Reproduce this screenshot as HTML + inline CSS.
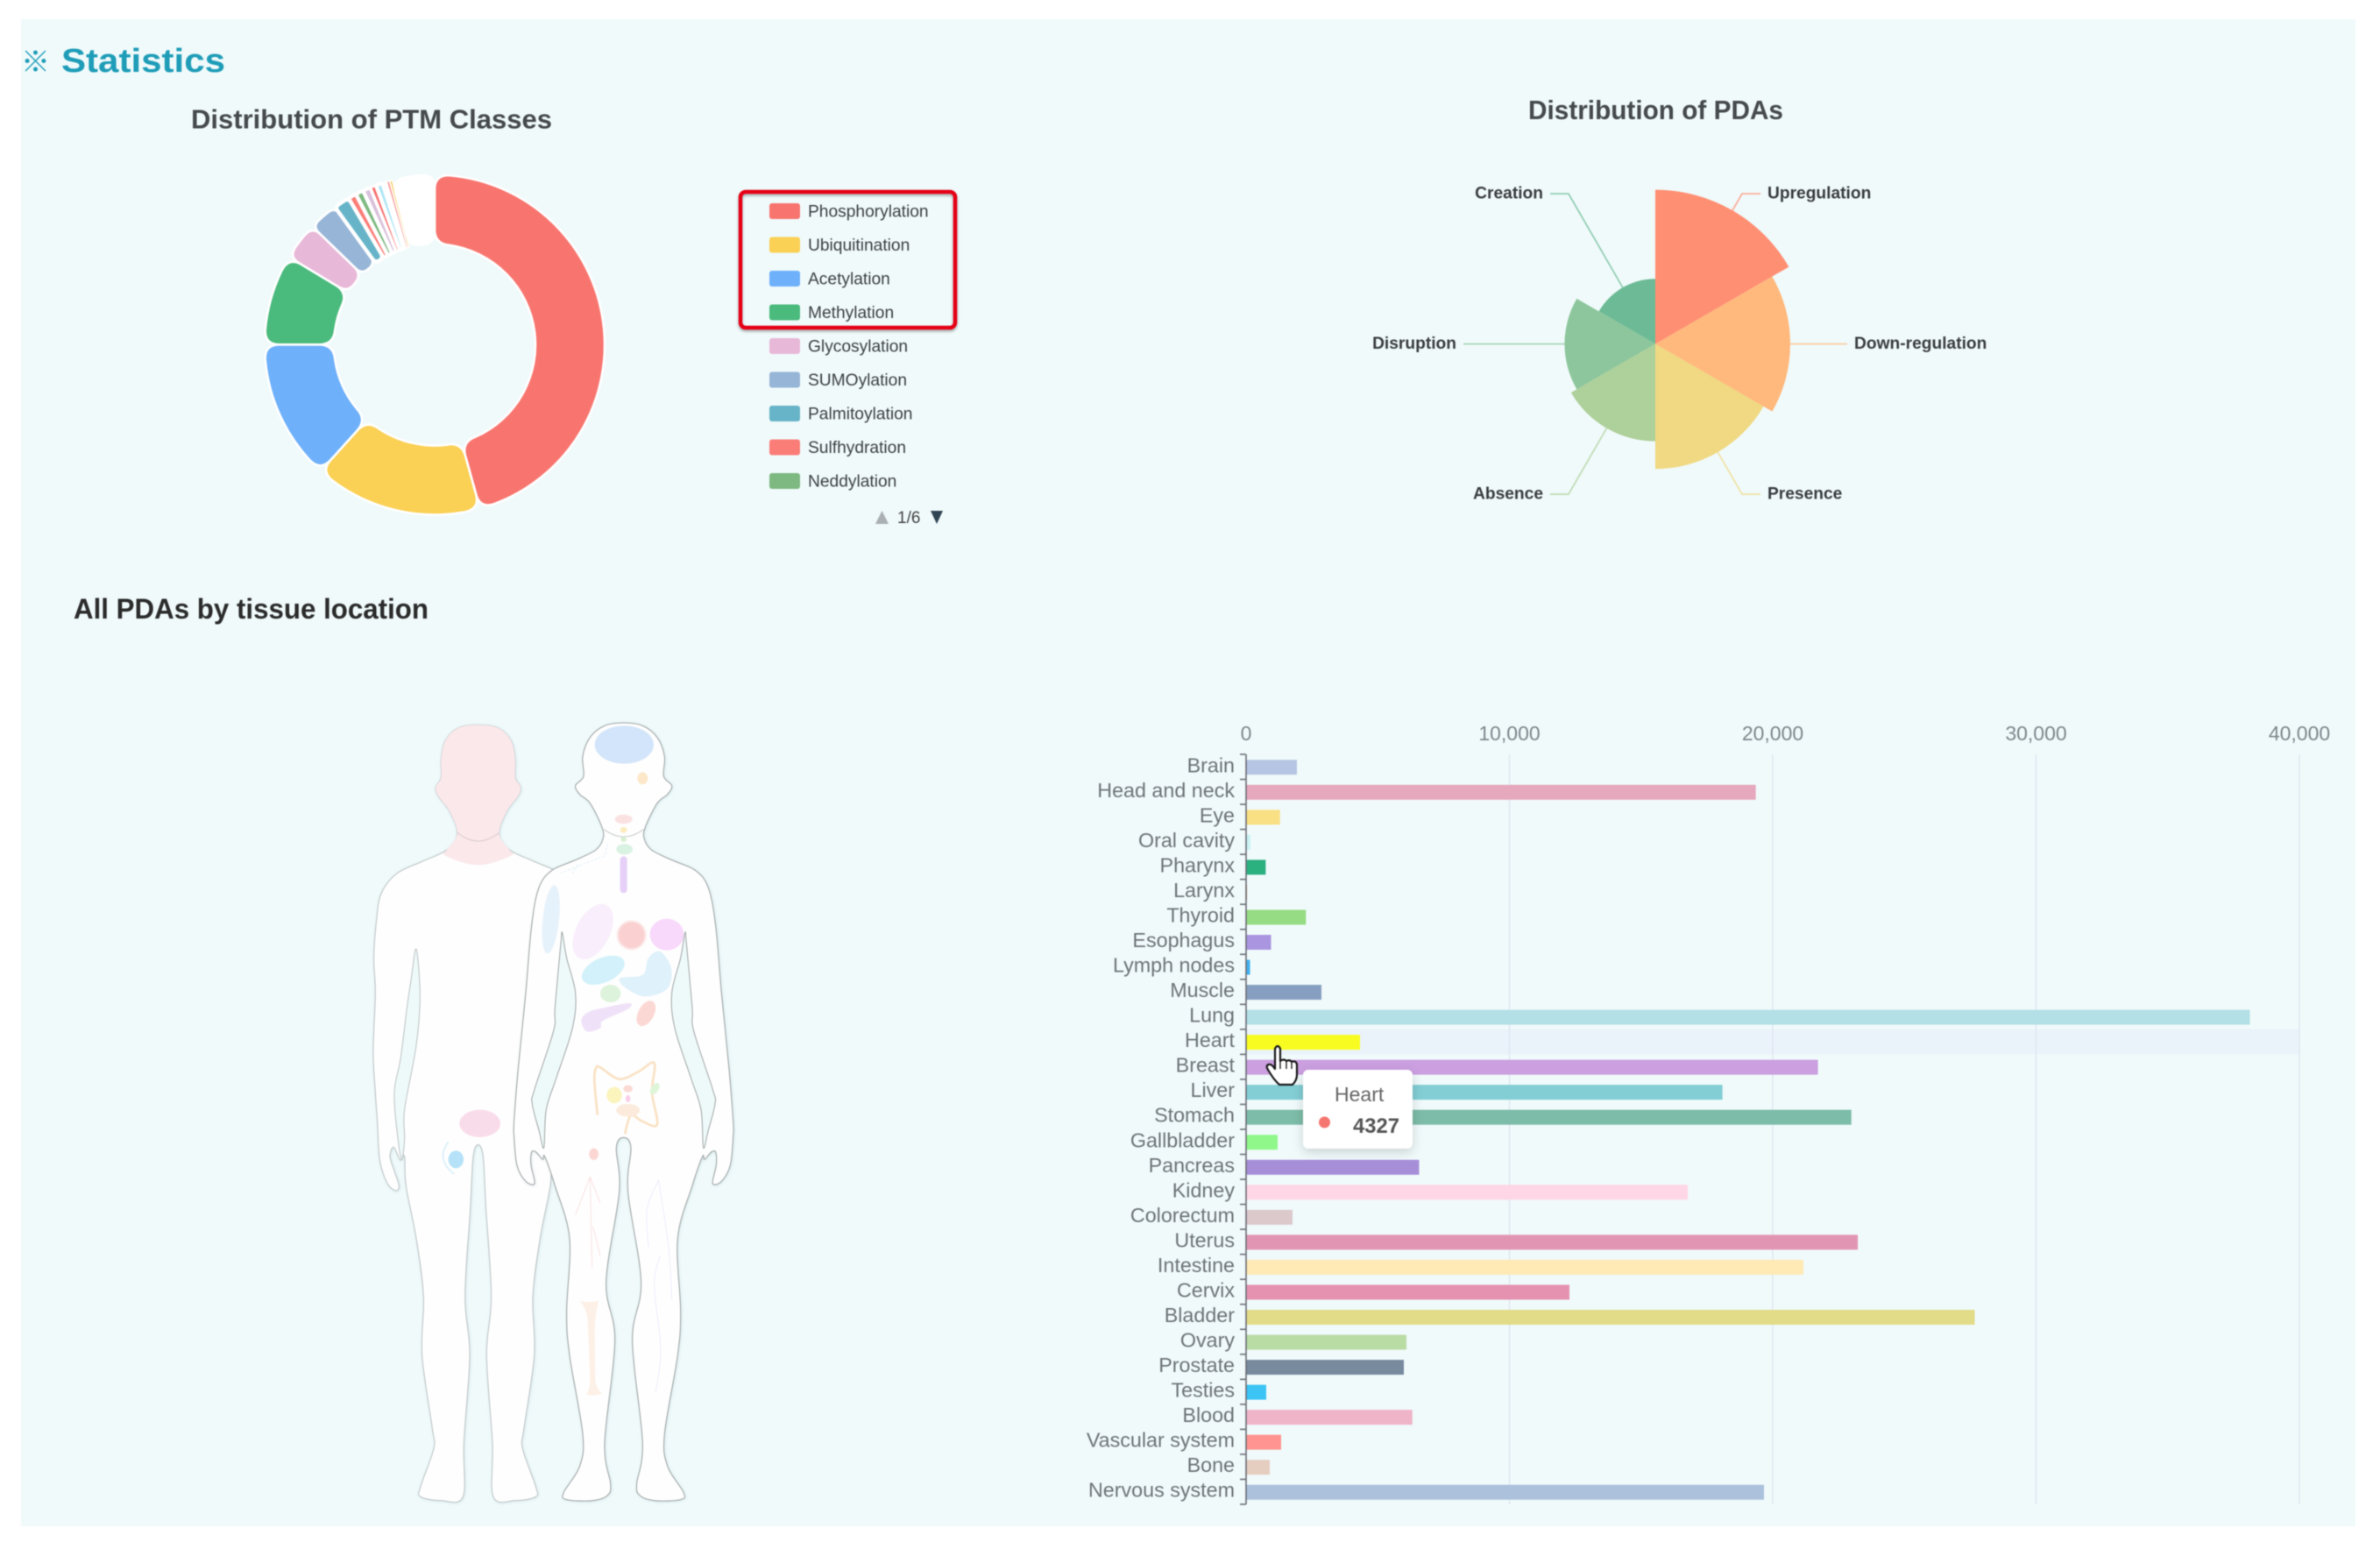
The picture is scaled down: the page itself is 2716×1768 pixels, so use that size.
<!DOCTYPE html>
<html lang="en">
<head>
<meta charset="utf-8">
<title>Statistics</title>
<style>
  html,body{margin:0;padding:0;background:#fff;}
  body{width:2716px;height:1768px;overflow:hidden;}
  svg{display:block;filter:blur(.65px);font-family:"Liberation Sans","Noto Sans CJK SC",sans-serif;}
</style>
</head>
<body>
<svg id="root" xmlns="http://www.w3.org/2000/svg" width="2716" height="1768" viewBox="0 0 2716 1768">
  <defs>
    <filter id="tipShadow" x="-30%" y="-30%" width="160%" height="170%">
      <feDropShadow dx="0" dy="4" stdDeviation="6" flood-color="#000" flood-opacity=".16"/>
    </filter>
    <filter id="boxShadow" x="-5%" y="-5%" width="110%" height="112%">
      <feDropShadow dx="0" dy="2" stdDeviation="1.5" flood-color="#000" flood-opacity=".35"/>
    </filter>
    <filter id="bodyShadow" x="-10%" y="-5%" width="120%" height="110%">
      <feDropShadow dx="2" dy="2" stdDeviation="5" flood-color="#6b9aa0" flood-opacity=".22"/>
    </filter>
    <filter id="soft" x="-30%" y="-30%" width="160%" height="160%"><feGaussianBlur stdDeviation="4"/></filter>
  </defs>

  <rect x="24" y="22" width="2664" height="1720" fill="#f0fafb"/>

  <text x="24" y="82" font-size="33" fill="#1f9db8" font-family="'Noto Sans CJK SC',sans-serif">※</text>
  <text x="70" y="82" font-size="38" font-weight="700" fill="#1f9db8" textLength="187" lengthAdjust="spacingAndGlyphs">Statistics</text>

  <text x="218" y="146.5" font-size="31" font-weight="700" fill="#464a4c" textLength="412" lengthAdjust="spacingAndGlyphs">Distribution of PTM Classes</text>
  <text x="1744" y="136" font-size="31" font-weight="700" fill="#464a4c" textLength="291" lengthAdjust="spacingAndGlyphs">Distribution of PDAs</text>
  <text x="84" y="706" font-size="32" font-weight="700" fill="#2b2b2b" textLength="405" lengthAdjust="spacingAndGlyphs">All PDAs by tissue location</text>

  <g id="donut"></g>
  <g id="legend"></g>
  <rect x="845" y="219" width="245" height="155" rx="6" fill="none" stroke="#e60012" stroke-width="4.5" filter="url(#boxShadow)"/>
  <g>
    <polygon points="999,598 1014,598 1006.5,583" fill="#aab0b3"/>
    <text x="1024" y="597" font-size="19" fill="#444">1/6</text>
    <polygon points="1062,583 1076,583 1069,598" fill="#2f4554"/>
  </g>

  <g id="rose"></g>
  <g id="bodies" transform="translate(400,800) scale(.33333)"></g>
  <g id="bars"></g>

  <g>
    <rect x="1487" y="1221" width="125" height="90" rx="6" fill="#fff" filter="url(#tipShadow)"/>
    <text x="1523" y="1257" font-size="23" fill="#666">Heart</text>
    <circle cx="1511.5" cy="1281" r="6.5" fill="#f5766f"/>
    <text x="1544" y="1293" font-size="24" font-weight="700" fill="#555" textLength="53" lengthAdjust="spacingAndGlyphs">4327</text>
  </g>
  <g>
    <path d="M1455,1197 q3,-6 6,0 l0,14 q4,-3 7,0 q4,-2 6,1 q5,-2 6,3 l0,12 q0,6 -5,11 l-15,0 q-6,-5 -13,-17 q-3,-5 1,-6 q3,-1 7,5 z" fill="#fff" stroke="#1a1a1a" stroke-width="2.2" stroke-linejoin="round"/>
    <path d="M1461,1211 v9 M1468,1211 v9 M1474,1212 v8" fill="none" stroke="#1a1a1a" stroke-width="1.4"/>
  </g>
</svg>

<script>
/* ---------- PTM donut data ---------- */
const ptmClasses = ['Phosphorylation','Ubiquitination','Acetylation','Methylation','Glycosylation','SUMOylation','Palmitoylation','Sulfhydration','Neddylation','Class 10','Class 11','Class 12','Class 13','Class 14','Class 15','Remaining classes'];
const ptmValues = [1645,575,480,310,130,100,55,28,27,27,20,23,15,10,10,144];
const ptmColors = ['#f8756f','#fad055','#6eb0fa','#4aba7d','#e8b8d8','#97b5d6','#67b4c8','#fb7d78','#7eb982','#d9c0dc','#f87070','#aee6f5','#ffffff','#f99a9a','#fbd77e','#ffffff'];
const legendPageCount = 9;

/* ---------- PDA rose data ---------- */
const pdaTypes = ['Upregulation','Down-regulation','Presence','Absence','Disruption','Creation'];
const pdaValues = [17600,15400,14260,11100,10350,7440];
const pdaColors = ['#ff8f73','#ffb97c','#f0d982','#aed09a','#8dc69c','#6dbb96'];

/* ---------- tissue bar data ---------- */
const tissues = ['Brain','Head and neck','Eye','Oral cavity','Pharynx','Larynx','Thyroid','Esophagus','Lymph nodes','Muscle','Lung','Heart','Breast','Liver','Stomach','Gallbladder','Pancreas','Kidney','Colorectum','Uterus','Intestine','Cervix','Bladder','Ovary','Prostate','Testies','Blood','Vascular system','Bone','Nervous system'];
const tissueValues = [1930,19357,1288,160,745,35,2272,948,150,2862,38120,4327,21717,18090,22985,1198,6570,16772,1764,23230,21165,12280,27670,6090,5990,765,6313,1331,898,19668];
const tissueColors = ['#b7c5e4','#e6a8bc','#fae084','#c8f2f4','#2bb080','#d08a5a','#96dc84','#a995e0','#40b0f0','#869fc0','#b2e0e6','#f8fc20','#cb9fe0','#82ced4','#7dbca8','#90f88a','#a68fd8','#ffd6e6','#dcc9cc','#e295b2','#ffe9b4','#e592b0','#e2db88','#b9dba4','#788a9e','#3cc4f5','#efb4c8','#ff9490','#e5cdc0','#acc1dc'];
const xTickValues = [0,10000,20000,30000,40000];
const highlightedTissue = 'Heart';

const NS = 'http://www.w3.org/2000/svg';
function el(tag, attrs, parent, text){
  const n = document.createElementNS(NS, tag);
  for (const k in attrs) n.setAttribute(k, attrs[k]);
  if (text !== undefined) n.textContent = text;
  parent.appendChild(n);
  return n;
}
function slug(s){ return s.toLowerCase().replace(/[^a-z0-9]+/g,'-'); }
function polar(cx, cy, r, deg){
  const a = deg * Math.PI / 180;
  return [cx + r * Math.sin(a), cy - r * Math.cos(a)];
}

/* ---------- donut ---------- */
(function(){
  const g = document.getElementById('donut');
  const cx = 496, cy = 393.5, ro = 194, ri = 115;
  const total = ptmValues.reduce((a,b)=>a+b,0);
  let angle = 0;
  ptmValues.forEach(function(v,i){
    const a0 = angle, a1 = angle + v / total * 360;
    angle = a1;
    const arcIn = (a1-a0) * Math.PI/180 * ri;
    const rc = Math.min(17, arcIn * 0.5);
    const P = (r,d)=>polar(cx,cy,r,d).map(n=>n.toFixed(2)).join(' ');
    const dOut = rc/ro*180/Math.PI, dIn = rc/ri*180/Math.PI;
    const large = (a1-a0) > 180 ? 1 : 0;
    const d = 'M'+P(ro-rc,a0)+' Q'+P(ro,a0)+' '+P(ro,a0+dOut)+
      ' A'+ro+' '+ro+' 0 '+large+' 1 '+P(ro,a1-dOut)+
      ' Q'+P(ro,a1)+' '+P(ro-rc,a1)+
      ' L'+P(ri+rc,a1)+' Q'+P(ri,a1)+' '+P(ri,a1-dIn)+
      ' A'+ri+' '+ri+' 0 '+large+' 0 '+P(ri,a0+dIn)+
      ' Q'+P(ri,a0)+' '+P(ri+rc,a0)+' Z';
    const arcOut = (a1-a0)*Math.PI/180*ro;
    const sw = arcOut < 7 ? arcOut*0.45 : (arcOut < 20 ? 4.4 : 2.6);
    const s = el('path',{d:d,fill:ptmColors[i],stroke:'#fff','stroke-width':sw,'stroke-linejoin':'round'},g);
    
    
  });
  const lg = document.getElementById('legend');
  for (let i = 0; i < legendPageCount; i++){
    const y = 241 + i * 38.5;
    const item = el('g',{},lg);
    
    
    const sw = el('rect',{x:878,y:y-9,width:35,height:18,rx:3,fill:ptmColors[i]},item);
    
    
    const t = el('text',{x:922,y:y+6.5,'font-size':19.2,fill:'#3d4144'},item,ptmClasses[i]);
    
    
  }
})();

/* ---------- rose ---------- */
(function(){
  const g = document.getElementById('rose');
  const cx = 1889, cy = 392.6, rMax = 176;
  const vMax = Math.max.apply(null, pdaValues);
  const rScale = v => v / vMax * rMax;
  const step = 360 / pdaValues.length;
  /* draw in reverse so the earlier sectors stay on top, as in the reference */
  for (let i = pdaValues.length - 1; i >= 0; i--){
    const r = rScale(pdaValues[i]);
    const a0 = i*step, a1 = (i+1)*step;
    const p0 = polar(cx,cy,r,a0), p1 = polar(cx,cy,r,a1);
    const s = el('path',{d:'M'+cx+' '+cy+' L'+p0[0]+' '+p0[1]+' A'+r+' '+r+' 0 0 1 '+p1[0]+' '+p1[1]+' Z',fill:pdaColors[i]},g);
    
    
  }
  pdaTypes.forEach(function(name,i){
    const mid = (i+.5)*step;
    const r = rScale(pdaValues[i]);
    const a = polar(cx,cy,r,mid), b = polar(cx,cy,198,mid);
    const dir = Math.sin(mid*Math.PI/180) >= 0 ? 1 : -1;
    const endX = b[0] + dir*21;
    const line = el('polyline',{points:a.join(',')+' '+b.join(',')+' '+endX+','+b[1],fill:'none',stroke:pdaColors[i],'stroke-width':1.8,opacity:.7},g);
    
    
    const t = el('text',{x:endX+dir*8,y:b[1]+5.5,'font-size':19.2,'font-weight':700,fill:'#3a3d40','text-anchor':dir>0?'start':'end'},g,name);
    
    
  });
})();

/* ---------- bars ---------- */
(function(){
  const g = document.getElementById('bars');
  const x0 = 1422, xMaxPx = 2624, xMaxVal = 40000, yTop = 861, yBottom = 1717;
  const xScale = v => x0 + v / xMaxVal * (xMaxPx - x0);
  const band = (yBottom - yTop) / tissues.length;
  const yScale = i => yTop + i * band;
  const barH = 17;

  const hi = tissues.indexOf(highlightedTissue);
  const hb = el('rect',{x:x0,y:yScale(hi),width:xMaxPx-x0,height:band,fill:'#eaf3fa'},g);
  
  

  xTickValues.forEach(function(v){
    if (v > 0){
      const gl = el('line',{x1:xScale(v),x2:xScale(v),y1:yTop,y2:yBottom,stroke:'#e0e6f1','stroke-width':1.5},g);
      
      
    }
    const t = el('text',{x:xScale(v),y:845,'font-size':23,fill:'#7e878c','text-anchor':'middle'},g,v.toLocaleString('en-US'));
    
    
  });

  tissues.forEach(function(name,i){
    const cy = yScale(i) + band/2;
    const b = el('rect',{x:x0,y:cy-barH/2+.5,width:xScale(tissueValues[i])-x0,height:barH,fill:tissueColors[i]},g);
    
    
    const t = el('text',{x:1409,y:cy+6,'font-size':23.3,fill:'#6e7478','text-anchor':'end'},g,name);
    
    
  });

  for (let i = 0; i <= tissues.length; i++){
    const tk = el('line',{x1:x0-7,x2:x0,y1:yScale(i),y2:yScale(i),stroke:'#6e7079','stroke-width':1.6},g);
    
    
  }
  const ax = el('line',{x1:x0,x2:x0,y1:yTop,y2:yBottom,stroke:'#6e7079','stroke-width':1.6},g);
  
  
})();

/* ---------- illustration ---------- */
(function(){
  const g = document.getElementById('bodies');
  function smooth(p, closed){
    const n = p.length;
    const at = i => closed ? p[(i+n)%n] : p[Math.max(0,Math.min(n-1,i))];
    let d = 'M'+p[0][0]+' '+p[0][1];
    const last = closed ? n : n-1;
    for (let i=0;i<last;i++){
      const a=at(i-1),b=at(i),c=at(i+1),e=at(i+2);
      const c1=[b[0]+(c[0]-a[0])/6,b[1]+(c[1]-a[1])/6];
      const c2=[c[0]-(e[0]-b[0])/6,c[1]-(e[1]-b[1])/6];
      d+=' C'+c1[0].toFixed(1)+' '+c1[1].toFixed(1)+' '+c2[0].toFixed(1)+' '+c2[1].toFixed(1)+' '+c[0]+' '+c[1];
    }
    return d+(closed?' Z':'');
  }
  function mirrored(half, c){
    const rev = half.slice(1,-1).reverse().map(q=>[2*c-q[0],q[1]]);
    return half.concat(rev);
  }
  function part(name, tag, attrs, parent){
    const n = el(tag, attrs, parent || g);
    
    
    return n;
  }
  const bg = '#eef9fa';

  /* back-view figure, left half listed then mirrored */
  const backHalf = [[437,82],[370,92],[325,135],[310,200],[310,262],[292,295],[300,325],[340,380],[365,455],[330,510],[250,548],[160,590],[105,660],[88,760],[80,880],[85,1000],[78,1200],[85,1340],[92,1440],[100,1570],[125,1650],[155,1677],[166,1660],[150,1610],[135,1560],[148,1528],[170,1572],[185,1560],[190,1660],[225,1840],[250,2040],[245,2240],[280,2490],[285,2560],[240,2690],[240,2725],[310,2738],[385,2725],[388,2540],[408,2240],[392,2040],[410,1740],[420,1560],[437,1520]];
  part('back-figure-silhouette','path',{d:smooth(mirrored(backHalf,437),true),fill:'#fefefe',stroke:'#bcc2c3','stroke-width':3,filter:'url(#bodyShadow)'});
  const backGap = [[225,850],[208,950],[192,1060],[172,1220],[150,1340],[160,1480],[175,1570],[185,1500],[185,1400],[225,1180],[238,1010]];
  part('back-figure-arm-gap','path',{d:smooth(backGap,true),fill:bg,stroke:'#bcc2c3','stroke-width':3});
  const headHalf = [[437,82],[370,92],[325,135],[310,200],[310,262],[292,295],[300,325],[340,380],[365,455],[330,510],[320,527],[380,552],[437,562]];
  part('back-figure-head-neck','path',{d:smooth(mirrored(headHalf,437),true),fill:'#fbe8eb'});
  part('back-figure-chin','path',{d:'M365 450 Q437 510 510 450',fill:'none',stroke:'#d5c9cb','stroke-width':2.5});
  part('back-figure-pelvis','ellipse',{cx:443,cy:1447,rx:70,ry:47,fill:'#f9dcea'});
  part('testis','ellipse',{cx:361,cy:1570,rx:26,ry:30,fill:'#b5e2f8'});
  part('testis-duct','path',{d:'M335 1510 Q290 1570 355 1620',fill:'none',stroke:'#d8eff9','stroke-width':5});

  /* front-view figure */
  const frontHalf = [[935,75],[1000,85],[1050,125],[1075,190],[1072,258],[1100,290],[1085,320],[1050,350],[1010,430],[1005,470],[1030,510],[1100,545],[1180,580],[1225,640],[1250,770],[1270,1000],[1295,1250],[1310,1440],[1310,1490],[1300,1590],[1270,1645],[1240,1652],[1252,1590],[1250,1545],[1235,1545],[1212,1570],[1205,1560],[1170,1660],[1120,1840],[1130,2090],[1120,2240],[1075,2510],[1085,2620],[1140,2710],[1130,2735],[1040,2738],[990,2720],[980,2680],[1000,2540],[965,2190],[995,1990],[950,1680],[960,1530],[935,1495]];
  part('front-figure-silhouette','path',{d:smooth(mirrored(frontHalf,935),true),fill:'#fefefe',stroke:'#a0a5a5','stroke-width':3.2,filter:'url(#bodyShadow)'});
  const frontGap = [[1145,795],[1130,880],[1100,1000],[1110,1120],[1165,1290],[1200,1400],[1208,1530],[1225,1470],[1248,1380],[1240,1330],[1175,1130],[1170,1050],[1150,830]];
  part('front-figure-arm-gap-right','path',{d:smooth(frontGap,true),fill:bg,stroke:'#a0a5a5','stroke-width':3});
  part('front-figure-arm-gap-left','path',{d:smooth(frontGap.map(q=>[1870-q[0],q[1]]),true),fill:bg,stroke:'#a0a5a5','stroke-width':3});
  part('front-figure-chin','path',{d:'M868 440 Q935 490 1003 440',fill:'none',stroke:'#b5b9b9','stroke-width':2.5});

  part('organ-brain','ellipse',{cx:937,cy:150,rx:101,ry:65,fill:'#d3e5fa'});
  part('organ-eye','ellipse',{cx:1000,cy:265,rx:18,ry:21,fill:'#fce8c9'});
  part('organ-oral-cavity','ellipse',{cx:935,cy:405,rx:30,ry:16,fill:'#fbe2e2'});
  part('organ-pharynx','ellipse',{cx:935,cy:442,rx:12,ry:10,fill:'#fcecc0'});
  part('organ-larynx','ellipse',{cx:935,cy:474,rx:10,ry:9,fill:'#d7f0d0'});
  part('organ-thyroid','ellipse',{cx:938,cy:508,rx:28,ry:18,fill:'#d9f2e2'});
  part('organ-esophagus','rect',{x:923,y:532,width:24,height:126,rx:12,fill:'#e6d0f8'});
  part('organ-muscle','ellipse',{cx:686,cy:748,rx:28,ry:118,fill:'#e6f2fb',transform:'rotate(6 686 748)'});
  part('organ-lung','ellipse',{cx:830,cy:790,rx:58,ry:102,fill:'#f9eefb',transform:'rotate(27 830 790)'});
  part('organ-heart','circle',{cx:962,cy:802,r:48,fill:'#fad0d0',filter:'url(#soft)'});
  part('organ-breast','ellipse',{cx:1083,cy:800,rx:58,ry:54,fill:'#f8d8fb'});
  part('organ-liver','ellipse',{cx:865,cy:922,rx:78,ry:42,fill:'#d2f1fa',transform:'rotate(-24 865 922)'});
  part('organ-stomach','path',{d:smooth([[922,950],[1000,938],[1020,880],[1060,858],[1098,915],[1085,985],[1010,1012],[945,985]],true),fill:'#dff1fa'});
  part('organ-gallbladder','ellipse',{cx:890,cy:1002,rx:35,ry:30,fill:'#def3dc'});
  part('organ-pancreas','path',{d:smooth([[955,1035],[880,1048],[815,1065],[790,1095],[810,1132],[855,1120],[865,1095],[950,1055]],true),fill:'#efe2f8'});
  part('organ-kidney','ellipse',{cx:1012,cy:1070,rx:27,ry:47,fill:'#fcd8d4',transform:'rotate(28 1012 1070)'});
  part('organ-intestine','path',{d:smooth([[845,1415],[835,1300],[840,1258],[855,1255],[920,1295],[985,1270],[1040,1240],[1032,1340],[1050,1450],[1000,1440],[960,1420],[940,1480]],false),fill:'none',stroke:'#f9e2c4','stroke-width':8,'stroke-linecap':'round'});
  part('organ-appendix','ellipse',{cx:1042,cy:1328,rx:13,ry:22,fill:'#dff5d8',transform:'rotate(35 1042 1328)'});
  part('organ-bladder','ellipse',{cx:903,cy:1350,rx:26,ry:28,fill:'#fbf4bd'});
  part('organ-uterus','ellipse',{cx:950,cy:1328,rx:16,ry:12,fill:'#fbd9d4'});
  part('organ-cervix','ellipse',{cx:950,cy:1362,rx:8,ry:12,fill:'#fbcde8'});
  part('organ-colorectum','ellipse',{cx:950,cy:1402,rx:40,ry:22,fill:'#fcebdc'});
  part('organ-ovary','ellipse',{cx:833,cy:1552,rx:16,ry:20,fill:'#fbd6d2'});
  part('organ-bone','path',{d:'M785 2055 Q815 2062 850 2055 Q838 2090 836 2160 L838 2330 Q842 2355 860 2372 Q835 2382 808 2375 Q822 2350 820 2320 L812 2120 Q808 2080 785 2055 Z',fill:'#fdf0e6'});
  part('vascular-lines','path',{d:'M820 1630 L770 1760 M820 1630 L827 1940 M820 1630 L855 1720 M830 1800 L855 1900',fill:'none',stroke:'#fbdcdc','stroke-width':2.5});
  part('nerve-lines','path',{d:smooth([[1055,1640],[1015,1740],[1020,1870]],false)+' '+smooth([[1055,1640],[1090,1880],[1100,2050]],false)+' '+smooth([[1060,1900],[1040,2000],[1062,2220],[1045,2370]],false),fill:'none',stroke:'#ebe8fc','stroke-width':2.5});
  part('lymph-lines','path',{d:'M880 490 L870 530 L720 590 M780 560 L760 590',fill:'none',stroke:'#d7ecf7','stroke-width':2.5,'stroke-dasharray':'8 6'});
})();
</script>
</body>
</html>
